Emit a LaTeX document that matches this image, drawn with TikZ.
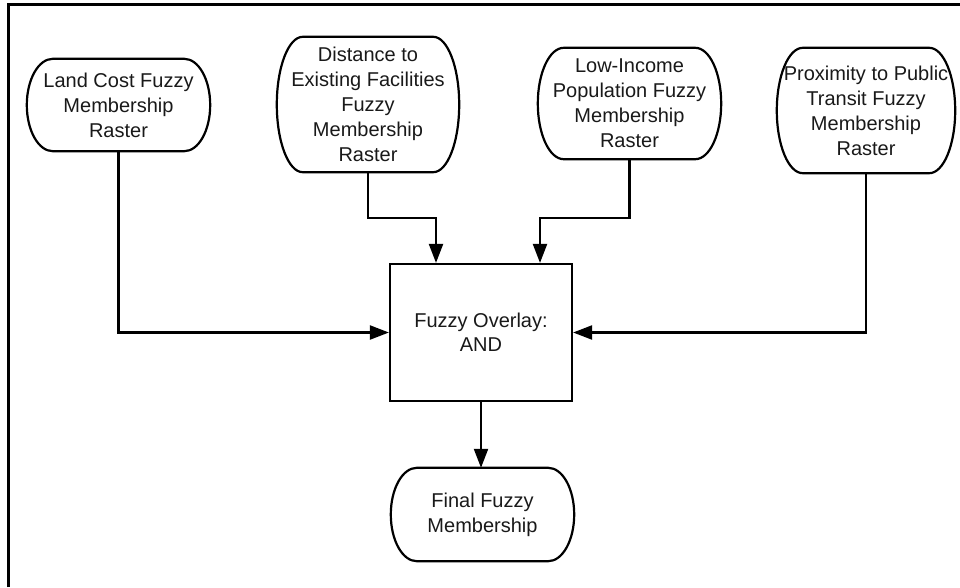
\documentclass[tikz,border=0pt]{standalone}
\usepackage{fontspec}
\setmainfont{Liberation Sans}
\usetikzlibrary{arrows.meta,calc}
\tikzset{
  txt/.style={draw=none, inner sep=0pt, align=center, text=black!90,
    font=\fontsize{20}{25}\selectfont},
  outl/.style={line width=2.2pt, black},
  conn/.style={line width=2.2pt, black},
  arr/.style={conn, -{Triangle[length=19pt,width=14pt]}},
  boxnode/.style={txt, draw=black, line width=2.2pt, font=\fontsize{20}{24}\selectfont}
}
\begin{document}
\begin{tikzpicture}[x=1pt,y=1pt]
\useasboundingbox (0,0) rectangle (960,-587);
% outer frame (only top and left visible)
\draw[line width=2.4pt] (8.5,-587) -- (8.5,-4.5) -- (960,-4.5);

\node[txt, minimum width=183pt, minimum height=92pt] (land) at (118.5,-105)
  {Land Cost Fuzzy\\Membership\\Raster};
\node[txt, minimum width=182pt, minimum height=135pt] (dist) at (368,-104.5)
  {Distance to\\Existing Facilities\\Fuzzy\\Membership\\Raster};
\node[txt, minimum width=183pt, minimum height=111pt] (low) at (629.5,-103.5)
  {Low-Income\\Population Fuzzy\\Membership\\Raster};
\node[txt, minimum width=178pt, minimum height=125pt] (prox) at (866,-110.5)
  {Proximity to Public\\Transit Fuzzy\\Membership\\Raster};
\node[boxnode, minimum width=182pt, minimum height=137pt] (box) at (481,-332.5)
  {Fuzzy Overlay:\\AND};
\node[txt, minimum width=183pt, minimum height=93pt] (fin) at (482.5,-514.5)
  {Final Fuzzy\\Membership};

\foreach \nd in {land,dist,low,prox,fin}{
  \draw[outl] let \p1=(\nd.north east), \p2=(\nd.south west), \n1={(\y1-\y2)/2} in
    ([xshift=26pt]\nd.north west) -- ([xshift=-26pt]\nd.north east)
    arc[start angle=90, end angle=-90, x radius=26pt, y radius=\n1]
    -- ([xshift=26pt]\nd.south west)
    arc[start angle=270, end angle=90, x radius=26pt, y radius=\n1] -- cycle;
}

\coordinate (dk) at (436,-218);
\coordinate (lk) at (540,-218);

\draw[arr] (land.south) |- (box.west);
\draw[arr] (prox.south) |- (box.east);
\draw[arr] (dist.south) |- (dk) -- (dk |- box.north);
\draw[arr] (low.south) |- (lk) -- (lk |- box.north);
\draw[arr] (box.south) -- (box.south |- fin.north);
\end{tikzpicture}
\end{document}
